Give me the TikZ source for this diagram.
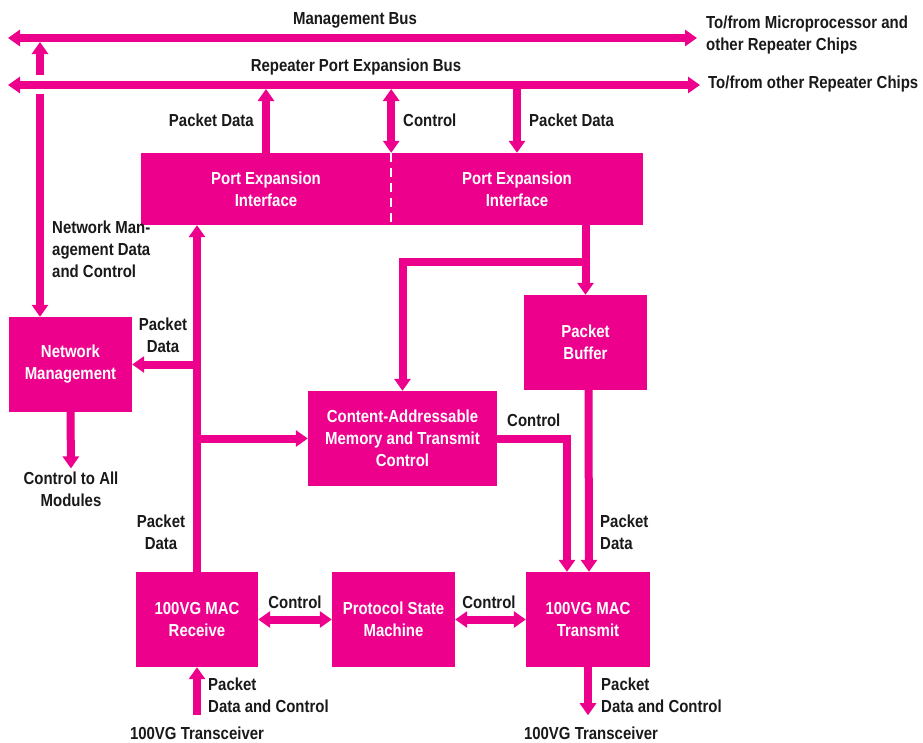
\documentclass[tikz,border=0pt]{standalone}
\usepackage{fontspec}
\setmainfont{Liberation Sans}[FakeStretch=0.86]
\usetikzlibrary{arrows.meta}

\definecolor{vgpink}{RGB}{236,0,140}
\newcommand{\lblfont}{\fontsize{17.4}{22}\selectfont\bfseries}

\tikzset{
  box/.style={fill=vgpink, text=white, align=center, inner sep=0pt,
    minimum width=123pt, minimum height=95pt},
  pipe/.style={draw=vgpink, line width=8pt, line join=miter},
  lbl/.style={text=black!90, inner sep=0pt, align=left}
}

\begin{document}
\begin{tikzpicture}[x=1pt, y=-1pt, font=\lblfont,
    >={Triangle[length=12pt,width=16pt]}]
  \useasboundingbox (0,0) rectangle (923,742);

  % the blocks
  \node[box] (nm) at (70.5,364.5) {Network\\Management};
  \node[box, minimum width=250pt, minimum height=72pt] (peiL) at (266,189) {Port Expansion\\Interface};
  \node[box, minimum width=252pt, minimum height=72pt] (peiR) at (517,189) {Port Expansion\\Interface};
  \node[box] (pb) at (585.5,342.5) {Packet\\Buffer};
  \node[box, minimum width=189pt] (cam) at (402.5,438.5) {Content-Addressable\\Memory and Transmit\\Control};
  \node[box, minimum width=122pt] (rx) at (197,619.5) {100VG MAC\\Receive};
  \node[box] (psm) at (393.5,619.5) {Protocol State\\Machine};
  \node[box, minimum width=124pt] (tx) at (588,619.5) {100VG MAC\\Transmit};
  % split between the two interfaces
  \draw[white, line width=1.5pt, dash pattern=on 9pt off 6pt] (peiL.north east) -- (peiL.south east);

  % the two buses
  \coordinate (mbL) at (8,38);
  \coordinate (mbR) at (697,38);
  \coordinate (rbL) at (8,85);
  \coordinate (rbR) at (700,85);
  \coordinate (mbB) at (0,42);
  \coordinate (rbB) at (0,89);
  \draw[pipe, <->] (mbL) -- (mbR);
  \draw[pipe, <->] (rbL) -- (rbR);
  \node[lbl] (mbT) at (355,20) {Management Bus};
  \node[lbl] (rbT) at (356,67) {Repeater Port Expansion Bus};
  \node[lbl, anchor=west] (mbX) at (706,35) {To/from Microprocessor and\\other Repeater Chips};
  \node[lbl, anchor=west] (rbX) at (708,84) {To/from other Repeater Chips};

  % network management link, broken where it crosses the repeater bus
  \coordinate (nmUp) at (40,75);
  \coordinate (nmDn) at (40,94);
  \draw[pipe, ->] (nmUp) -- (nmUp |- mbB);
  \draw[pipe, ->] (nmDn) -- (nmDn |- nm.north);
  \node[lbl, anchor=west] (nmT) at (52,249) {Network Man-\\agement Data\\and Control};

  % port expansion interface to the bus
  \draw[pipe, ->] (peiL.north) -- (peiL.north |- rbB);
  \draw[pipe, <->] (peiL.north east |- rbB) -- (peiL.north east);
  \draw[pipe, ->] (peiR.north |- rbB) -- (peiR.north);
  \node[lbl, anchor=east] (pdA) at (254,120) {Packet Data};
  \node[lbl, anchor=west] (ctA) at (403,120) {Control};
  \node[lbl, anchor=west] (pdB) at (529,120) {Packet Data};

  % receive path
  \draw[pipe, ->] (rx.north) -- (rx.north |- peiL.south);
  \draw[pipe, ->] (rx.north |- nm.east) -- (nm.east);
  \draw[pipe, ->] (rx.north |- cam.west) -- (cam.west);
  \node[lbl, align=center] (pdC) at (163,335) {Packet\\Data};
  \node[lbl, align=center] (pdD) at (161,532) {Packet\\Data};

  % control to all modules
  \node[lbl, align=center] (all) at (71,489) {Control to All\\Modules};
  \draw[pipe, ->] (nm.south) -- ([yshift=3pt]all.north);

  % transmit path
  \coordinate (split) at (585.5,262);
  \draw[pipe, ->] (peiR.south -| pb.north) -- (pb.north);
  \draw[pipe, ->] ([xshift=4pt]split) -| (cam.north);
  \draw[pipe, ->] ([xshift=3pt]pb.south) -- ([xshift=1pt]tx.north);
  \draw[pipe, ->] (cam.east) -| ([xshift=-21pt]tx.north);
  \node[lbl, anchor=west] (ctB) at (507,420) {Control};
  \node[lbl, anchor=west] (pdE) at (600,532) {Packet\\Data};

  % protocol state machine
  \draw[pipe, <->] (rx.east) -- (psm.west);
  \draw[pipe, <->] (psm.east) -- (tx.west);
  \node[lbl] (ctC) at (295,602) {Control};
  \node[lbl] (ctD) at (489,602) {Control};

  % transceivers
  \node[lbl] (trL) at (197,733) {100VG Transceiver};
  \node[lbl] (trR) at (591,733) {100VG Transceiver};
  \draw[pipe, ->] (rx.south |- 0,715) -- (rx.south);
  \draw[pipe, ->] (tx.south) -- ++(0,48);
  \node[lbl, anchor=west] (pdF) at (208,695) {Packet\\Data and Control};
  \node[lbl, anchor=west] (pdG) at (601,695) {Packet\\Data and Control};
\end{tikzpicture}
\end{document}
